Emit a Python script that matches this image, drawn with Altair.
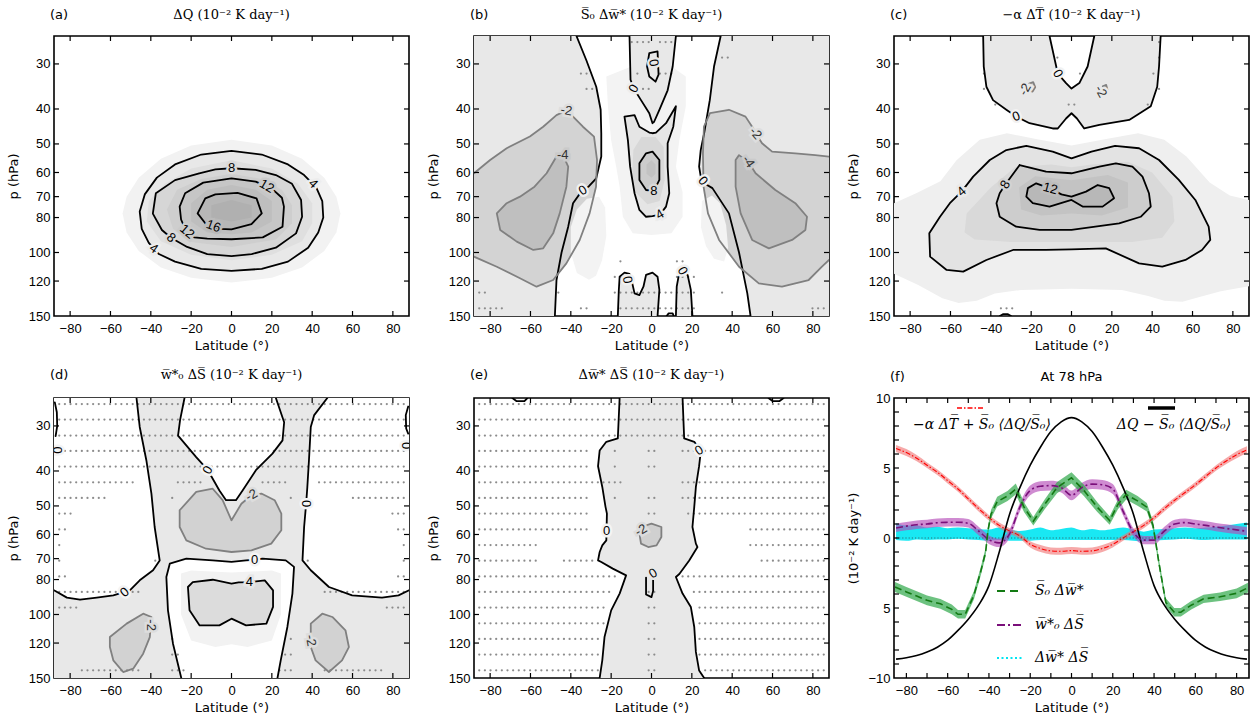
import altair as alt
import pandas as pd

# ---------------- layout constants ----------------
W, H = 355, 280
LAT_DOM = [-88, 88]
P_DOM = [25.1, 150]
LAT_TICKS = [-80, -60, -40, -20, 0, 20, 40, 60, 80]
P_TICKS = [30, 40, 50, 60, 70, 80, 100, 120, 150]
F_XTICKS = [-80, -70, -60, -50, -40, -30, -20, -10, 0, 10, 20, 30, 40, 50, 60, 70, 80]
F_YTICKS = [-9, -8, -7, -6, -5, -4, -3, -2, -1, 0, 1, 2, 3, 4, 5, 6, 7, 8, 9]
F_YLABELS = [-10, -5, 0, 5, 10]
K = '#000000'
G = '#808080'
LT = '#333333'
LABEL_FONT = 'Liberation Sans'
MATH_FONT = 'DejaVu Serif'
SANS = 'DejaVu Sans'

UNITS = '(10\u207b\u00b2 K day\u207b\u00b9)'
T_A = '\u0394Q ' + UNITS
T_B = 'S\u0305\u2080 \u0394w\u0305* ' + UNITS
T_C = '\u2212\u03b1 \u0394T\u0305 ' + UNITS
T_D = 'w\u0305*\u2080 \u0394S\u0305 ' + UNITS
T_E = '\u0394w\u0305* \u0394S\u0305 ' + UNITS
T_F = 'At 78 hPa'

# stippling grid (model grid points)
DOT_LATS = [-85.4, -82.6, -79.8, -77.0, -74.2, -71.4, -68.6, -65.8, -63.0, -60.2, -57.4,
            -54.6, -51.8, -49.0, -46.2, -43.4, -40.6, -37.8, -35.0, -32.2, -29.4, -26.6,
            -23.8, -21.0, -18.2, -15.4, -12.6, -9.8, -7.0, -4.2, -1.4,
            1.4, 4.2, 7.0, 9.8, 12.6, 15.4, 18.2, 21.0, 23.8, 26.6, 29.4, 32.2, 35.0,
            37.8, 40.6, 43.4, 46.2, 49.0, 51.8, 54.6, 57.4, 60.2, 63.0, 65.8, 68.6,
            71.4, 74.2, 77.0, 79.8, 82.6, 85.4]

# ---------------- panel (a): dQ ----------------
A_F0 = [(0, 48.7), (20, 50.5), (35, 55), (46, 62), (52, 70), (54, 78), (52, 88), (46, 99), (35, 110),
        (20, 117.5), (0, 121.2), (-20, 117.5), (-35, 110), (-46, 99), (-52, 88), (-54, 78), (-52, 70),
        (-46, 62), (-35, 55), (-20, 50.5)]
A_C4 = [(0, 52.3), (15, 53.5), (28, 57), (36, 61), (42, 66), (45, 72), (45.5, 80), (43, 88), (38, 97),
        (28, 106), (15, 111), (0, 112.5), (-15, 111), (-28, 106), (-36, 101), (-41, 94), (-44.5, 86),
        (-45.5, 77), (-43, 69), (-37, 62), (-28, 57), (-15, 53.5)]
A_F2 = [(0, 55.5), (20, 58.5), (33, 64.5), (40, 73), (40, 83), (35, 93), (20, 101.5), (0, 105),
        (-20, 101.5), (-35, 93), (-42, 82), (-41, 72), (-33, 64.5), (-20, 58.5)]
A_C8 = [(0, 58.4), (12, 59), (22, 61), (30, 64.5), (34.5, 71.5), (35, 79.6), (32, 88.5), (22, 97),
        (10, 101), (0, 102.3), (-12, 101), (-22, 96.5), (-30, 91), (-34.5, 86.6), (-39, 78),
        (-37.5, 68.5), (-28, 63), (-16, 60.3), (-8, 58.8)]
A_F4 = [(0, 60.5), (15, 62.5), (25, 67), (30, 74), (30, 83), (22, 92), (0, 96.5), (-20, 93.5),
        (-29, 86), (-32, 76), (-27, 67), (-15, 62.5)]
A_C12 = [(0, 62.3), (12, 63.6), (20, 66.5), (25, 70.5), (26, 74.6), (25.3, 84.8), (15.5, 90.8),
         (0, 91.9), (-12, 91.5), (-18.5, 90.8), (-23, 86), (-25, 81), (-25.7, 74.6), (-23, 68.5), (-14, 64)]
A_F6 = [(0, 65), (12, 67), (20, 72), (20, 82), (10, 88), (0, 89), (-12, 88), (-20, 82), (-20, 73), (-12, 67)]
A_C16 = [(0, 86.3), (9.9, 83.4), (15, 77.9), (12.4, 70.8), (3, 68.3), (-8, 69), (-13, 70.8),
         (-16.8, 77.9), (-13, 83), (-6, 86)]
A_F8 = [(-10, 74), (0, 71.5), (10, 74), (10, 80), (0, 82), (-10, 80)]
A_LABELS = [(40.5, 64.5, '4', 45, K, '#ededed'), (-38.5, 97.5, '4', 35, K, '#ededed'),
            (0, 58.4, '8', 0, K, '#dadada'), (-30, 91, '8', 40, K, '#dadada'),
            (17.5, 65.5, '12', 30, K, '#cacaca'), (-22, 87.5, '12', 40, K, '#cacaca'),
            (-9, 84.5, '16', 20, K, '#bababa')]

# ---------------- panel (b): S0 dw* ----------------
B_L0_LEFT = [(-37.2, 25.1), (-32.3, 29.3), (-27.4, 34.7), (-25.2, 40.2), (-24.9, 46.7), (-24.9, 54.2),
             (-27.4, 62.3), (-31, 65.5), (-34.8, 67.8), (-38.9, 73.0), (-41.3, 84.8), (-44.6, 100),
             (-47.1, 119.2), (-47.9, 150)]
B_L0_RIGHT = [(34.3, 25.1), (31, 30.5), (28.9, 37.8), (26.1, 46.7), (24.4, 52), (23.6, 57.8), (24.5, 62),
              (26.5, 64.5), (30.2, 66.3), (38.4, 77.9), (43.4, 100), (47.5, 129.8), (49.1, 150)]
B_TONGUE = [(-10.9, 25.1), (-10.4, 33.2), (-8.8, 35.1), (-5.2, 37.8), (-1.1, 41.1), (0.5, 43.8),
            (1.3, 43.4), (3.9, 40.2), (8, 35.5), (10.5, 30.5), (12.1, 25.1)]
B_TLOOP = [(3, 27.7), (-1.1, 28), (-2.2, 30.5), (-1.1, 32.5), (2, 33.6), (3.5, 32.1)]
B_C4 = [(-13.4, 42.0), (-8.4, 41.6), (-6, 44.8), (-1.1, 46.5), (0.5, 46.7), (2.2, 46.5), (7.2, 43.8),
        (12.1, 39.3), (10.8, 44.8), (8, 49.8), (8, 57.8), (8.8, 68.5), (7.2, 74.6), (4.2, 78.5),
        (0.5, 79.3), (-2.7, 79.6), (-6, 76.2), (-8.4, 68.5), (-10.6, 57.8), (-11.7, 48.8)]
B_F6 = [(-9, 52), (-5, 47.8), (2, 47.8), (6, 51), (6.5, 63), (4, 72), (-2, 73.5), (-8, 68), (-9.5, 60)]
B_C8 = [(-2.7, 53.1), (-6, 56.6), (-6, 62.9), (-2.7, 67.1), (1.2, 67.5), (3.9, 62.9), (3.9, 55.4), (0.5, 52.5)]
B_F10 = [(-2.5, 57), (0, 55.5), (2, 57), (2, 60.5), (0, 62), (-2.5, 60.5)]
B_P2_CENTER = [(-22.4, 32.5), (-21.6, 39.4), (-20, 48.8), (-17.5, 57.8), (-15.8, 65.7), (-14.2, 79.6),
               (-9.3, 88.5), (0, 89.5), (9.9, 88.5), (15.4, 79.6), (15.4, 68), (12.1, 57.8), (13.8, 48.8),
               (17, 39.4), (17, 32.5), (10, 30.5), (0, 30.5), (-10, 30.5)]
B_P2_LEFT = [(-32, 71), (-26, 70), (-23, 75), (-22.4, 90), (-24.5, 105), (-27.5, 116), (-31, 119),
             (-37, 114), (-40, 100), (-40, 85), (-37, 76)]
B_P2_RIGHT = [(25, 72), (30, 69.5), (34, 73), (37, 84), (38, 97), (36, 106), (31, 104), (27, 96), (24.5, 85)]
B_M2_LEFT = [(-88, 102.7), (-76.7, 109.5), (-65.2, 117.9), (-57, 124.4), (-48.75, 119.2), (-42.2, 107.2),
             (-35.6, 92.3), (-30.7, 77.9), (-27.5, 65.7), (-27, 55.4), (-28.5, 47.7), (-34, 44.8),
             (-38.9, 42.0), (-42.2, 40.4), (-47.1, 41.6), (-53.7, 44.8), (-60.3, 47.7), (-71.8, 51.4),
             (-80, 55.4), (-88, 60.3)]
B_M4_LEFT = [(-44, 53.5), (-41.3, 57.8), (-42.2, 65.7), (-45.5, 77.9), (-48.75, 88.5), (-53.7, 97.4),
             (-58.6, 98.4), (-66.8, 93.3), (-75, 86.6), (-76.7, 77.9), (-71.8, 73), (-65.2, 70),
             (-58, 65.7), (-52, 60.3), (-47.1, 54.2)]
B_M2_RIGHT = [(88, 104.9), (84.5, 109.5), (77.9, 119.2), (64.7, 124.4), (53.2, 121.8), (43.4, 109.5),
              (33.5, 92.3), (28, 77.9), (25.8, 65.7), (25.5, 53.1), (26, 44.8), (29, 41.1), (38.4, 40.2),
              (46.6, 42.0), (49.9, 44.8), (51.6, 46.7), (54.8, 49.8), (59.8, 52.5), (71.3, 53.1),
              (81.2, 53.7), (88, 54.2)]
B_M4_RIGHT = [(43.4, 53.7), (48, 56), (51.6, 60.3), (61.4, 67.1), (71.3, 73), (77.1, 79.6), (76.3, 86.6),
              (69.7, 92.3), (58.2, 97.4), (49.9, 92.3), (44.2, 77.9), (41.7, 65.7), (41.7, 55.4)]
B_BOT1 = [(-16.7, 150), (-16.2, 127), (-15.8, 116.7), (-13.4, 113.7), (-10.9, 114.7), (-9.5, 122),
          (-8.4, 129.8), (-6, 131.3), (-4, 124.4), (-2.7, 115.4), (0.5, 113.7), (3, 116.7), (3.9, 127), (3, 150)]
B_BOT2 = [(12.1, 150), (12.5, 124.4), (13.4, 116.7), (15.4, 112.5), (17.9, 115.4), (19.5, 127), (20.3, 150)]
B_BOT3 = [(7.5, 150), (8.5, 147.5), (10.5, 147.5), (11, 150)]
B_LABELS = [(-34, 67.3, '0', 330, K, '#f0f0f0'), (25.5, 63.3, '0', 50, K, '#f0f0f0'),
            (-8.8, 35.1, '0', 300, K, '#ececec'), (1, 29.8, '0', 80, K, '#e8e8e8'),
            (4.2, 78.5, '4', 330, K, '#ececec'), (1.2, 67.5, '8', 0, K, '#d8d8d8'),
            (-42.2, 40.4, '-2', 10, LT, '#dedede'), (-44, 53.5, '-4', 0, LT, '#cacaca'),
            (51.6, 46.7, '-2', 50, LT, '#dedede'), (48, 56, '-4', 55, LT, '#cacaca'),
            (-12, 119, '0', 80, K, '#f0f0f0'), (15.4, 112.5, '0', 60, K, '#f0f0f0')]
B_DOTS = [(26.1, [(-10, -1), (4, 11)]), (28.8, [(34, 39)]), (31.9, [(-36, -31), (-9, -6), (4, 11)]),
          (35.2, [(-33, -29), (-10, 1)]), (105.8, [(-16, -13), (12, 18)]), (116.9, [(-19, -9), (-1, 1), (12, 22)]),
          (129.2, [(-88, -82), (-47, -45), (-19, 22), (34, 35.5)]),
          (142.8, [(-88, -74), (-36, -32), (-16, 22), (79, 88)])]

# ---------------- panel (c): -alpha dT ----------------
C_TOP_OUT = [(-43.8, 25.1), (-43.5, 30.5), (-42.2, 34.7), (-38.9, 37.8), (-32.3, 40.2), (-27.4, 42.0),
             (-20.8, 43.8), (-9.3, 45.3), (-6.8, 45.3), (-2.7, 42.5), (0, 41.1), (2.7, 42.5), (6.3, 45.3),
             (13.8, 44.3), (28.6, 42.9), (39.3, 39.3), (42.5, 34.7), (43.4, 30.5), (44.2, 25.1)]
C_TOP_V = [(11.3, 25.1), (8, 30.5), (3.9, 33.9), (0, 35.1), (-2.7, 33.9), (-6.8, 31.9), (-10.9, 25.1)]
C_M2A = [(-21, 34), (-19, 33.7), (-18, 34.8), (-19.3, 35.8), (-21, 35.5)]
C_M2B = [(15.5, 34.6), (17.2, 34.3), (17.8, 35.3), (16.3, 35.8)]
C_F0 = [(-88, 73), (-77, 68.5), (-65, 63.5), (-57, 55.5), (-45.5, 48.7), (-32, 46.7), (-17, 48.5), (0, 50.5),
        (16.5, 48.5), (33, 46.7), (46, 48.7), (57, 54.2), (68.5, 64), (78.5, 69.5), (88, 71.5),
        (88, 124), (74, 128), (63, 133), (55, 137), (46, 136), (38, 132), (25, 127), (0, 126), (-25, 127),
        (-38, 130), (-47, 136), (-56, 138), (-64, 134), (-76, 123), (-88, 114.5)]
C_C4 = [(-48.75, 61.6), (-40.5, 55.4), (-32.3, 52), (-22.4, 50.6), (-9.3, 52.5), (0, 54.8), (9.9, 52.5),
        (21.6, 50.6), (33.5, 51.4), (43.4, 55.4), (53.2, 62.9), (61.4, 71.5), (68, 84.8), (68.8, 92.3),
        (64.7, 98.4), (56.5, 104.9), (45, 109.5), (33.5, 107.2), (17, 97.4), (0, 98), (-12.6, 98.4),
        (-29, 98.4), (-42.2, 104.9), (-53.7, 113), (-61.9, 111.8), (-70.1, 102.7), (-70.5, 88.5),
        (-65.2, 79.6), (-60.3, 73), (-54.5, 67.8)]
C_F2 = [(-53, 88), (-52, 78), (-40, 66), (-28, 58), (-10, 57), (0, 58), (10, 57), (28, 56), (40, 60),
        (50, 70), (51, 82), (45, 91), (30, 93.5), (0, 93.5), (-30, 93.5), (-48, 92)]
C_C8 = [(-25.7, 57.2), (-12.6, 59.7), (0, 60.3), (13.8, 57.8), (22, 56.6), (30.2, 57.8), (35.2, 61.6),
        (38.4, 68.5), (39.3, 74.6), (34.3, 79.6), (23.6, 83), (0, 86.6), (-15.8, 86.6), (-27.4, 84.8),
        (-35.6, 79.6), (-37.2, 73), (-35.6, 68.5), (-32.8, 64.8)]
C_F4 = [(-25, 76), (-26, 66), (-18, 61.5), (0, 63), (18, 61), (28, 64), (28, 75), (15, 79), (0, 78), (-15, 79)]
C_C12 = [(-5, 69.0), (0, 70.0), (7.2, 67.8), (13, 65), (18.7, 66.3), (21.1, 70.7), (15.4, 74.6), (5.5, 74.6),
         (0, 71.5), (-10.9, 74.6), (-19.2, 73), (-22.4, 70), (-21.6, 66.3), (-17.5, 64.3), (-10.5, 66.5)]
C_BOTBIT = [(-35.5, 150), (-34, 148.3), (-31.5, 148.3), (-30, 150)]
C_LABELS = [(-27.4, 42.0, '0', 340, K, '#f2f2f2'), (-6.8, 31.9, '0', 60, K, '#f2f2f2'),
            (-23, 35.3, '-2', 300, LT, '#e8e8e8'), (14.5, 35.8, '-2', 60, LT, '#e8e8e8'),
            (-54.5, 67.8, '4', 320, K, '#e9e9e9'), (-32.8, 64.8, '8', 300, K, '#d3d3d3'),
            (-10.5, 66.5, '12', 15, K, '#bdbdbd')]
C_DOTS = [(26.1, [(43, 46)]), (28.8, [(-8, -6), (43, 46)]), (31.9, [(-44, -42), (3, 5), (39, 42)]),
          (35.2, [(-44, -42), (42, 45)]), (38.9, [(-38, -36), (-2, 2), (36, 38)]), (142.8, [(-36, -29)])]

# ---------------- panel (d): w0* dS ----------------
D_BG = [(-88, 25.1), (88, 25.1), (88, 150), (-88, 150)]
D_L0_LEFT = [(-47.1, 25.1), (-45.5, 30.2), (-42.2, 37.4), (-39.7, 46.2), (-38.1, 57.2), (-35.6, 70.8),
             (-38.9, 75.4), (-45.5, 80.4), (-50.4, 85.7), (-58.6, 88.5), (-66.8, 89.8), (-75.1, 91.0),
             (-81.6, 89.8), (-88, 85.7)]
D_L0_RIGHT = [(47.5, 25.1), (41, 28), (39.3, 30.2), (38.4, 37.4), (37.6, 44.3), (37, 49.3), (36, 57.2),
              (35.2, 70.8), (39.3, 75.4), (48.3, 83.9), (59.8, 88.5), (74.6, 89.8), (82.8, 88.5), (88, 85.7)]
D_V = [(-23.3, 25.1), (-25.5, 28.9), (-26.5, 31.9), (-17.5, 36.6), (-11.7, 39.8), (-6, 45.3), (-2.7, 48.2),
       (2.2, 48.2), (5.5, 45.3), (12.1, 39.8), (20.3, 35.8), (25.3, 32.9), (26.1, 29.3), (22, 25.1)]
D_W_BOT = [(-24.9, 150), (-29, 120.5), (-31.5, 97.4), (-32.3, 78.7), (-30.6, 72.3), (-22.4, 70), (-9.3, 70.8),
           (0, 71.5), (7.2, 70.8), (11.5, 70.5), (15.4, 70), (26.9, 70.8), (31, 73.8), (30.2, 87.5),
           (27.7, 108.3), (24.4, 134), (22.8, 150)]
D_P2 = [(-25, 77), (-20, 75.5), (0, 76.5), (20, 75.5), (24.5, 77), (24.5, 100), (20, 118), (8, 123),
        (0, 121), (-8, 123), (-20, 118), (-25, 100)]
D_C4 = [(3.5, 81.5), (8.8, 81.3), (16.5, 80.4), (20.6, 85.7), (20.6, 95.3), (17.3, 106), (7.2, 107.2),
        (0, 102.7), (-6, 107.2), (-15.8, 107.2), (-20.8, 97.4), (-21.6, 83.9), (-19.2, 81.3), (-9.3, 80.1), (0, 82.1)]
D_M2_TOP = [(-25.7, 51.4), (-17.5, 45.7), (-9.3, 44.8), (-4.4, 48.2), (0, 54.8), (4.9, 49.3), (9.9, 46.7),
            (14.8, 46.2), (21.4, 48.2), (24.7, 52.5), (24.7, 58.4), (19.7, 63.6), (9.9, 66.4), (0, 67.1),
            (-12.6, 65.7), (-22.4, 62.3), (-25.7, 57.2)]
D_M2_LL = [(-60.3, 115.5), (-52, 106), (-43.8, 99.5), (-39.7, 101.6), (-40.5, 115.5), (-43.8, 128.4),
           (-48.75, 141.3), (-53.7, 144.4), (-58.6, 134), (-60.3, 123.1)]
D_M2_LR = [(39.3, 106), (45, 99.5), (50, 101.6), (56.5, 110.6), (58.2, 123.1), (54.8, 134), (48.3, 144.4),
           (41.7, 134), (39.3, 123.1)]
D_EDGE1 = [(-87.6, 25.8), (-86.6, 27.5), (-86.4, 30), (-87.2, 32)]
D_EDGE2 = [(87.6, 26.5), (86.4, 28), (86.6, 30.5), (87.6, 31.5)]
D_LABELS = [(-53, 86.8, '0', 320, K, '#f4f4f4'), (37, 49.3, '0', 90, K, '#f4f4f4'),
            (-11.7, 39.8, '0', 300, K, '#f4f4f4'), (11.5, 70.5, '0', 0, K, '#f4f4f4'),
            (8.8, 81.3, '4', 0, K, '#e6e6e6'), (9.9, 46.7, '-2', 330, LT, '#dddddd'),
            (-40, 107, '-2', 90, LT, '#dddddd'), (39.3, 118, '-2', 80, LT, '#dddddd'),
            (-86.6, 35, '0', 90, K, '#f4f4f4'), (86.3, 34, '0', 90, K, '#f4f4f4')]
D_DOTS = [(26.1, [(-88, 88)]), (28.8, [(-88, 88)]), (31.9, [(-88, 88)]), (35.2, [(-88, 88)]),
          (38.9, [(-88, 88)]), (43.0, [(-88, -48), (-28, -15), (15, 28), (42, 88)]),
          (47.5, [(-88, -62), (-31, -27), (27, 31), (60, 88)]), (52.5, [(-88, -78), (78, 88)]),
          (58.1, [(-88, -80), (80, 88)]), (64.2, [(-88, -84), (84, 88)]),
          (70.9, [(-88, -84), (-40, -37), (37, 40), (84, 88)]), (78.4, [(-88, -80), (80, 88)]),
          (86.6, [(-88, -45), (45, 88)]), (95.7, [(-88, -76), (76, 88)]),
          (116.9, [(-31, -27), (27, 31)]), (129.2, [(-31, -25), (25, 31)]),
          (142.8, [(-75, -45), (-31, -22), (22, 31), (45, 75)])]

# ---------------- panel (e): dw* dS ----------------
E_L_LEFT = [(-15.8, 25.1), (-16.7, 32.5), (-22.4, 33.2), (-25.7, 35.1), (-26.5, 38.8), (-24.4, 44.3),
            (-22.8, 50.3), (-22.1, 52.5), (-22.4, 62.3), (-24.4, 64.3), (-25.7, 67.1), (-26.5, 70.8),
            (-24.9, 71.5), (-19.2, 74.6), (-12.6, 77.9), (-15.8, 87.5), (-20, 97.4), (-23.3, 115.5),
            (-24.4, 134), (-25.7, 150)]
E_L_RIGHT = [(15.4, 25.1), (16.2, 32.5), (21.2, 33.2), (24.5, 35.1), (23.6, 38.8), (22, 44.3), (21.2, 50.3),
             (20.3, 57.2), (22, 63.6), (22.8, 65), (18.7, 70.8), (13.8, 77.2), (12.1, 78.7), (15.4, 87.5),
             (19.5, 95.3), (21.2, 108.3), (22, 127), (23.6, 142.9), (26.1, 150)]
E_M2 = [(-5.2, 57.2), (0, 56.0), (4.9, 57.2), (4.9, 61.0), (2.5, 64.3), (-1.6, 65.0), (-5.2, 63.6), (-6, 59.7)]
E_U = [(-2.7, 79), (-2.7, 88), (0, 89.5), (0.8, 86), (0.8, 80)]
E_TOP1 = [(-69, 25.1), (-67, 25.6), (-63, 25.6), (-61.5, 25.1)]
E_TOP2 = [(58, 25.1), (60, 25.6), (63.5, 25.6), (65.5, 25.1)]
E_LABELS = [(-22.3, 58.5, '0', 0, K, '#f4f4f4'), (23.6, 35.1, '0', 330, K, '#f4f4f4'),
            (0.8, 77, '0', 330, K, '#e8e8e8'), (-5.2, 58.4, '-2', 330, LT, '#dcdcdc')]
E_DOTS = [(26.1, [(-88, 88)]), (28.8, [(-88, 88)]), (31.9, [(-88, 88)]),
          (35.2, [(-88, -30), (-20, -16), (-2, 3), (13, 88)]),
          (38.9, [(-88, -30), (-20, -16), (-2, 3), (25, 88)]),
          (43.0, [(-88, -15), (14, 88)]),
          (47.5, [(-88, -30), (-20, -16), (-2, 3), (14, 88)]),
          (52.5, [(-88, -30), (-2, 3), (16, 88)]),
          (58.1, [(-88, -30), (48, 88)]), (64.2, [(-88, -55), (48, 88)]),
          (70.9, [(-88, -57), (-45, -28), (54, 88)]), (78.4, [(-88, -16), (14, 88)]),
          (86.6, [(-88, -20), (-2, 3), (20, 88)]), (95.7, [(-88, -23), (-2, 3), (22, 88)]),
          (105.8, [(-88, -23), (-2, 3), (22, 88)]), (116.9, [(-88, -25), (-2, 3), (23, 88)]),
          (129.2, [(-88, -25), (-2, 3), (23, 88)]), (142.8, [(-88, -26), (-2, 3), (24, 88)])]

# ---------------- panel (f): at 78 hPa ----------------
F_LAT = [-85, -80, -75, -70, -65, -60, -55, -50, -45, -40, -35, -30, -25, -20, -15, -10, -5, 0,
         5, 10, 15, 20, 25, 30, 35, 40, 45, 50, 55, 60, 65, 70, 75, 80, 85]
BLACK_V = [-8.65, -8.55, -8.4, -8.15, -7.8, -7.3, -6.6, -5.8, -4.8, -3.4, -1.0, 1.7, 3.6, 5.2, 6.5, 7.6, 8.3,
           8.6, 8.3, 7.6, 6.5, 5.2, 3.6, 1.7, -1.0, -3.4, -4.8, -5.8, -6.6, -7.3, -7.8, -8.15, -8.4, -8.55, -8.65]
RED_V = [6.4, 6.1, 5.7, 5.2, 4.7, 4.1, 3.5, 2.8, 2.1, 1.45, 0.9, 0.5, 0.15, -0.45, -0.75, -0.92, -0.95,
         -0.9, -0.95, -0.92, -0.75, -0.45, 0.0, 0.45, 0.9, 1.45, 2.1, 2.7, 3.25, 3.8, 4.4, 5.0, 5.5, 5.95, 6.3]
RED_E = [0.25, 0.25, 0.22, 0.2, 0.2, 0.2, 0.2, 0.2, 0.2, 0.2, 0.2, 0.2, 0.2, 0.22, 0.25, 0.25, 0.25, 0.25,
         0.25, 0.25, 0.25, 0.22, 0.2, 0.2, 0.2, 0.2, 0.2, 0.2, 0.2, 0.2, 0.2, 0.2, 0.22, 0.25, 0.25]
PURPLE_V = [0.72, 0.85, 0.95, 1.0, 1.09, 1.12, 1.13, 1.05, 0.5, -0.12, -0.35, 0.3, 2.2, 3.4, 3.7, 3.74, 3.6,
            3.05, 3.6, 3.85, 3.8, 3.5, 1.9, 0.4, -0.15, -0.15, 0.5, 1.0, 1.1, 1.0, 0.9, 0.78, 0.68, 0.58, 0.48]
PURPLE_E = [0.3, 0.3, 0.3, 0.3, 0.3, 0.3, 0.3, 0.3, 0.3, 0.3, 0.3, 0.3, 0.3, 0.35, 0.35, 0.35, 0.35, 0.35,
            0.35, 0.35, 0.35, 0.35, 0.3, 0.3, 0.3, 0.3, 0.3, 0.3, 0.3, 0.3, 0.3, 0.3, 0.3, 0.3, 0.3]
CYAN_V = [0.45, 0.35, 0.4, 0.3, 0.35, 0.3, 0.35, 0.3, 0.25, 0.2, 0.3, 0.2, 0.15, 0.2, 0.3, 0.2, 0.25, 0.3,
          0.2, 0.25, 0.2, 0.25, 0.3, 0.2, 0.1, 0.2, 0.25, 0.3, 0.35, 0.3, 0.3, 0.35, 0.4, 0.45, 0.5]
CYAN_E = [0.6, 0.55, 0.5, 0.45, 0.45, 0.4, 0.4, 0.4, 0.4, 0.4, 0.45, 0.4, 0.35, 0.4, 0.45, 0.35, 0.4, 0.45,
          0.35, 0.4, 0.35, 0.4, 0.45, 0.4, 0.35, 0.4, 0.4, 0.4, 0.4, 0.4, 0.45, 0.45, 0.5, 0.55, 0.6]
GREEN_LAT = [-85.5, -80, -75, -70, -63.5, -58, -55, -51.5, -47.3, -44, -41.6, -40.5, -39, -36, -31, -27, -23,
             -18.5, -13, -7, 0, 6, 12.5, 18.5, 22.5, 26.5, 32, 36.5, 39.5, 42.5, 45.7, 49.8, 53, 58, 64, 72, 80, 85.5]
GREEN_V = [-3.5, -3.85, -4.15, -4.45, -4.7, -5.1, -5.45, -5.45, -4.1, -2.4, -1.0, 0.5, 1.7, 2.6, 3.0, 3.5, 2.2,
           1.2, 2.4, 3.6, 4.3, 3.4, 2.2, 1.25, 2.4, 3.1, 2.65, 2.2, 0.9, -1.9, -4.6, -5.3, -5.3, -4.8, -4.35,
           -4.2, -3.95, -3.55]
GREEN_E = [0.35, 0.35, 0.35, 0.35, 0.35, 0.35, 0.3, 0.3, 0.3, 0.3, 0.3, 0.3, 0.3, 0.35, 0.35, 0.4, 0.35, 0.3,
           0.35, 0.4, 0.4, 0.4, 0.35, 0.3, 0.35, 0.35, 0.35, 0.3, 0.3, 0.3, 0.3, 0.3, 0.3, 0.3, 0.3, 0.3, 0.35, 0.35]
LEG_RED = '\u2212\u03b1 \u0394T\u0305 + S\u0305\u2080 \u27e8\u0394Q/S\u0305\u2080\u27e9'
LEG_BLACK = '\u0394Q \u2212 S\u0305\u2080 \u27e8\u0394Q/S\u0305\u2080\u27e9'
LEG_GREEN = 'S\u0305\u2080 \u0394w\u0305*'
LEG_PURPLE = 'w\u0305*\u2080 \u0394S\u0305'
LEG_CYAN = '\u0394w\u0305* \u0394S\u0305'


# ---------------- helpers ----------------
def close(pts):
    return list(pts) + [pts[0]]


def shapes_df(items, prefix):
    rows = []
    for i, (col, pts) in enumerate(items):
        for j, (la, pp) in enumerate(pts):
            rows.append({'key': f'{prefix}{i:02d}', 'col': col, 'ord': j, 'lat': la, 'p': pp})
    return pd.DataFrame(rows)


def labels_df(items):
    return pd.DataFrame([{'lat': a, 'p': b, 'txt': t, 'ang': g, 'col': c, 'bg': bg}
                         for (a, b, t, g, c, bg) in items])


def dots_df(rows):
    out = []
    for pp, ranges in rows:
        for la in DOT_LATS:
            if any(lo <= la <= hi for lo, hi in ranges):
                out.append({'lat': la, 'p': pp})
    return pd.DataFrame(out)


ONE = pd.DataFrame({'t': ['']})


def text_layer(s, x, y, font, size, align='center', style='normal'):
    return alt.Chart(pd.DataFrame({'t': [s]})).mark_text(
        align=align, baseline='middle', font=font, fontSize=size, fontStyle=style, color='black'
    ).encode(text='t:N', x=alt.value(x), y=alt.value(y))


def contour_panel(letter, title, fills, lines, labels, dots, dy):
    sx = alt.Scale(domain=LAT_DOM, nice=False, zero=False)
    sy = alt.Scale(type='log', domain=P_DOM, reverse=True, nice=False)
    X = alt.X('lat:Q', scale=sx, axis=alt.Axis(values=LAT_TICKS, title='Latitude (\u00b0)',
                                                  labelPadding=6, titlePadding=4))
    Y = alt.Y('p:Q', scale=sy, axis=alt.Axis(values=P_TICKS, title='p (hPa)', labelExpr="'' + datum.value",
                                              labelPadding=4, titlePadding=8))
    layers = [
        alt.Chart(shapes_df(fills, letter + 'f')).mark_line(filled=True, clip=True).encode(
            x=X, y=Y, order='ord:Q', detail='key:N', color=alt.Color('col:N', scale=None))
    ]
    if dots:
        layers.append(alt.Chart(dots_df(dots)).mark_circle(size=5, color='#8c8c8c', opacity=1, clip=True)
                      .encode(x=X, y=Y))
    layers.append(alt.Chart(shapes_df(lines, letter + 'l')).mark_line(
        clip=True, strokeWidth=1.8, strokeJoin='round', strokeCap='round').encode(
        x=X, y=Y, order='ord:Q', detail='key:N', color=alt.Color('col:N', scale=None)))
    ldf = labels_df(labels)
    layers.append(alt.Chart(ldf).mark_text(font=LABEL_FONT, fontSize=13, strokeWidth=5, clip=True).encode(
        x=X, y=Y, text='txt:N', angle=alt.Angle('ang:Q', scale=None),
        color=alt.Color('bg:N', scale=None), stroke=alt.Stroke('bg:N', scale=None)))
    layers.append(alt.Chart(ldf).mark_text(font=LABEL_FONT, fontSize=13, clip=True).encode(
        x=X, y=Y, text='txt:N', angle=alt.Angle('ang:Q', scale=None), color=alt.Color('col:N', scale=None)))
    xt = pd.DataFrame({'lat': LAT_TICKS})
    yt = pd.DataFrame({'p': P_TICKS[:-1]})
    for y0, y1 in ((H, H - 5), (0, 5)):
        layers.append(alt.Chart(xt).mark_rule(color='black', strokeWidth=1.2).encode(
            x=X, y=alt.value(y0), y2=alt.value(y1)))
    for x0, x1 in ((0, 5), (W, W - 5)):
        layers.append(alt.Chart(yt).mark_rule(color='black', strokeWidth=1.2).encode(
            y=Y, x=alt.value(x0), x2=alt.value(x1)))
    layers.append(text_layer('(' + letter + ')', -4, dy, SANS, 13, align='left'))
    layers.append(text_layer(title, W / 2, dy, MATH_FONT, 13))
    return alt.layer(*layers).properties(width=W, height=H)


def f_panel(dy):
    sx = alt.Scale(domain=[-86, 86], nice=False, zero=False)
    sy = alt.Scale(domain=[-10, 10], nice=False, zero=False)
    ax = alt.Axis(values=LAT_TICKS, title='Latitude (\u00b0)', labelPadding=6, titlePadding=4)
    ay = alt.Axis(values=F_YLABELS, title=UNITS, labelExpr="datum.value == -5 ? '5' : datum.label",
                  labelPadding=4, titlePadding=7)
    X = alt.X('lat:Q', scale=sx, axis=ax)

    def Yq(f):
        return alt.Y(f + ':Q', scale=sy, axis=ay)

    def band(lats, vals, errs, color, op, interp):
        df = pd.DataFrame({'lat': lats, 'lo': [v - e for v, e in zip(vals, errs)],
                           'hi': [v + e for v, e in zip(vals, errs)]})
        return alt.Chart(df).mark_area(color=color, opacity=op, clip=True, interpolate=interp).encode(
            x=X, y=Yq('lo'), y2='hi:Q')

    def line(lats, vals, color, dash, width, interp):
        df = pd.DataFrame({'lat': lats, 'v': vals})
        kw = dict(color=color, strokeWidth=width, clip=True, interpolate=interp)
        if dash:
            kw['strokeDash'] = dash
        return alt.Chart(df).mark_line(**kw).encode(x=X, y=Yq('v'))

    def rule(x0, x1, y, color, dash, width):
        kw = dict(color=color, strokeWidth=width)
        if dash:
            kw['strokeDash'] = dash
        return alt.Chart(ONE).mark_rule(**kw).encode(x=alt.value(x0), x2=alt.value(x1), y=alt.value(y))

    layers = [
        band(F_LAT, CYAN_V, CYAN_E, '#00e5f2', 0.9, 'monotone'),
        band(F_LAT, RED_V, RED_E, '#f07070', 0.6, 'monotone'),
        band(F_LAT, PURPLE_V, PURPLE_E, '#b54db8', 0.65, 'monotone'),
        band(GREEN_LAT, GREEN_V, GREEN_E, '#2fa84a', 0.7, 'linear'),
        alt.Chart(ONE).mark_rule(color='#2b6f77', strokeDash=[1.2, 2], strokeWidth=1.2).encode(
            y=alt.YDatum(0, type='quantitative', scale=sy, axis=ay)),
        line(F_LAT, BLACK_V, 'black', None, 1.6, 'monotone'),
        line(F_LAT, RED_V, '#ff0000', [5, 2, 1.5, 2], 1.1, 'monotone'),
        line(F_LAT, PURPLE_V, '#7a0f7a', [7, 3, 2, 3], 1.6, 'monotone'),
        line(GREEN_LAT, GREEN_V, '#137a13', [7, 4], 1.6, 'linear'),
    ]
    xt = pd.DataFrame({'lat': F_XTICKS})
    yt = pd.DataFrame({'v': F_YTICKS})
    for y0, y1 in ((H, H - 5), (0, 5)):
        layers.append(alt.Chart(xt).mark_rule(color='black', strokeWidth=1.2).encode(
            x=X, y=alt.value(y0), y2=alt.value(y1)))
    for x0, x1 in ((0, 5), (W, W - 5)):
        layers.append(alt.Chart(yt).mark_rule(color='black', strokeWidth=1.2).encode(
            y=Yq('v'), x=alt.value(x0), x2=alt.value(x1)))
    # legend entries
    layers += [
        rule(63, 89, 10, '#ff0000', [5, 2, 1.5, 2], 1.4),
        rule(254, 281, 10, 'black', None, 3.5),
        rule(103, 128, 193, '#137a13', [8, 5], 2),
        rule(103, 128, 227, '#7a0f7a', [8, 3, 2, 3], 2),
        rule(103, 128, 260, '#00e5f2', [2, 2.5], 2.2),
        text_layer(LEG_RED, 88, 27, MATH_FONT, 14, style='italic'),
        text_layer(LEG_BLACK, 280, 27, MATH_FONT, 14, style='italic'),
        text_layer(LEG_GREEN, 141, 193, MATH_FONT, 14, align='left', style='italic'),
        text_layer(LEG_PURPLE, 141, 227, MATH_FONT, 14, align='left', style='italic'),
        text_layer(LEG_CYAN, 141, 260, MATH_FONT, 14, align='left', style='italic'),
        text_layer('(f)', -4, dy, SANS, 13, align='left'),
        text_layer(T_F, W / 2, dy, SANS, 13),
    ]
    return alt.layer(*layers).properties(width=W, height=H)


# ---------------- panels ----------------
A = contour_panel('a', T_A,
                  [('#f2f2f2', A_F0), ('#e8e8e8', A_C4), ('#dfdfdf', A_F2), ('#d6d6d6', A_C8),
                   ('#cecece', A_F4), ('#c6c6c6', A_C12), ('#bebebe', A_F6), ('#b7b7b7', A_C16),
                   ('#b0b0b0', A_F8)],
                  [(K, close(A_C4)), (K, close(A_C8)), (K, close(A_C12)), (K, close(A_C16))],
                  A_LABELS, None, -21)

B = contour_panel('b', T_B,
                  [('#e8e8e8', B_L0_LEFT + [(-88, 150), (-88, 25.1)]),
                   ('#e8e8e8', B_L0_RIGHT + [(88, 150), (88, 25.1)]),
                   ('#d3d3d3', B_M2_LEFT), ('#bfbfbf', B_M4_LEFT),
                   ('#d3d3d3', B_M2_RIGHT), ('#bfbfbf', B_M4_RIGHT),
                   ('#f3f3f3', B_P2_CENTER), ('#f3f3f3', B_P2_LEFT), ('#f3f3f3', B_P2_RIGHT),
                   ('#e8e8e8', B_TONGUE), ('#e5e5e5', B_C4), ('#d8d8d8', B_F6), ('#cccccc', B_C8),
                   ('#c2c2c2', B_F10), ('#e8e8e8', B_BOT1), ('#e8e8e8', B_BOT2)],
                  [(K, B_L0_LEFT), (K, B_L0_RIGHT), (K, B_TONGUE), (K, close(B_TLOOP)), (K, close(B_C4)),
                   (K, close(B_C8)), (K, B_BOT1), (K, B_BOT2), (K, B_BOT3),
                   (G, B_M2_LEFT), (G, close(B_M4_LEFT)), (G, B_M2_RIGHT), (G, close(B_M4_RIGHT))],
                  B_LABELS, B_DOTS, -21)

C = contour_panel('c', T_C,
                  [('#e8e8e8', C_TOP_OUT + C_TOP_V), ('#d2d2d2', C_M2A), ('#d2d2d2', C_M2B),
                   ('#efefef', C_F0), ('#e3e3e3', C_C4), ('#d9d9d9', C_F2), ('#cdcdcd', C_C8),
                   ('#c3c3c3', C_F4), ('#b8b8b8', C_C12)],
                  [(K, C_TOP_OUT), (K, C_TOP_V), (K, close(C_C4)), (K, close(C_C8)), (K, close(C_C12)),
                   (K, C_BOTBIT), (G, close(C_M2A)), (G, close(C_M2B))],
                  C_LABELS, C_DOTS, -21)

D = contour_panel('d', T_D,
                  [('#e8e8e8', D_BG), ('#ffffff', D_L0_LEFT + [(-88, 25.1)]),
                   ('#ffffff', D_L0_RIGHT + [(88, 25.1)]), ('#ffffff', D_V), ('#ffffff', D_W_BOT),
                   ('#f2f2f2', D_P2), ('#dcdcdc', D_C4), ('#d2d2d2', D_M2_TOP), ('#d2d2d2', D_M2_LL),
                   ('#d2d2d2', D_M2_LR)],
                  [(K, D_L0_LEFT), (K, D_L0_RIGHT), (K, D_V), (K, D_W_BOT), (K, close(D_C4)),
                   (K, D_EDGE1), (K, D_EDGE2),
                   (G, close(D_M2_TOP)), (G, close(D_M2_LL)), (G, close(D_M2_LR))],
                  D_LABELS, D_DOTS, -23)

E = contour_panel('e', T_E,
                  [('#e8e8e8', E_L_LEFT + E_L_RIGHT[::-1]), ('#d0d0d0', E_M2)],
                  [(K, E_L_LEFT), (K, E_L_RIGHT), (K, E_U), (K, E_TOP1), (K, E_TOP2), (G, close(E_M2))],
                  E_LABELS, E_DOTS, -23)

F = f_panel(-21)

chart = alt.concat(A, B, C, D, E, F, columns=3, spacing={'row': 82, 'column': 65}, bounds='flush').properties(
    padding={'left': 6, 'top': 8, 'right': 2, 'bottom': 2}, background='white'
).configure_view(stroke='black', strokeWidth=1.6).configure_axis(
    grid=False, domain=False, ticks=False, labelFont=LABEL_FONT, labelFontSize=13, labelColor='black',
    titleFont=SANS, titleFontSize=13, titleFontWeight='normal', titleColor='black', labelOverlap=False
)

chart.save('out.html', embed_options={'renderer': 'svg', 'actions': False})
